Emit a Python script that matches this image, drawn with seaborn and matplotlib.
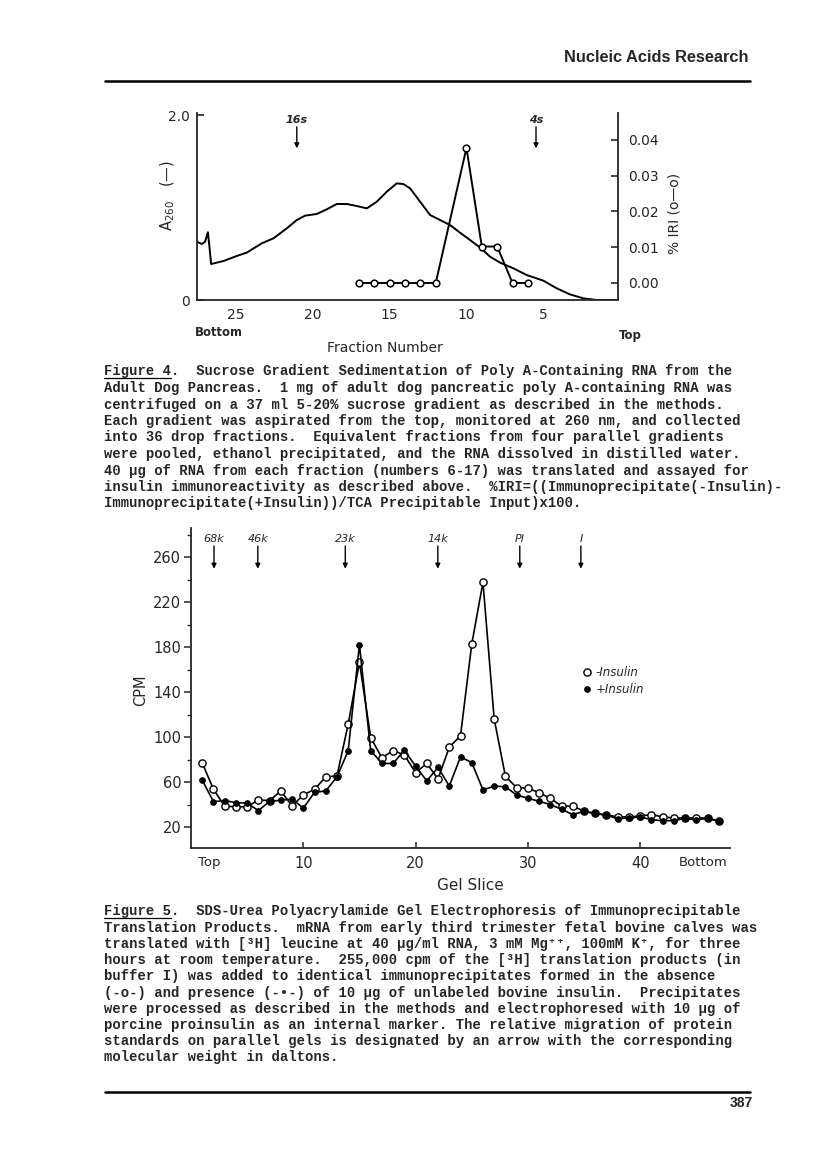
import matplotlib
matplotlib.use("Agg")
import matplotlib.pyplot as plt
from matplotlib.lines import Line2D
from matplotlib.ticker import MultipleLocator
import seaborn as sns
import pandas as pd

# ---------------- Figure 4 data ----------------
a260_fraction = [27.56, 27.24, 27.02, 26.84, 26.74, 26.63, 25.82, 24.96, 24.31, 23.33,
                 22.57, 21.70, 21.05, 20.51, 19.75, 19.10, 18.45, 17.80, 17.14, 16.49,
                 15.84, 15.19, 14.54, 14.11, 13.67, 13.02, 12.37, 11.72, 11.07, 10.42,
                 9.77, 9.11, 8.46, 7.81, 6.94, 6.08, 4.99, 4.12, 3.26, 2.39, 1.52, 0.22]
a260_value = [0.631, 0.605, 0.631, 0.732, 0.577, 0.389, 0.422, 0.476, 0.512, 0.613,
              0.667, 0.775, 0.865, 0.912, 0.930, 0.980, 1.038, 1.038, 1.016, 0.991,
              1.063, 1.171, 1.261, 1.254, 1.207, 1.063, 0.919, 0.865, 0.811, 0.728,
              0.649, 0.566, 0.468, 0.404, 0.342, 0.270, 0.209, 0.126, 0.061, 0.018, 0.0, 0.0]
iri_fraction = [17, 16, 15, 14, 13, 12, 10, 9, 8, 7, 6]
iri_value = [0.0, 0.0, 0.0, 0.0, 0.0, 0.0, 0.0378, 0.0102, 0.0102, 0.0, 0.0]
fig4_marker_names = ["16s", "4s"]
fig4_marker_pos = [21.05, 5.47]
fig4_xticks = [25, 20, 15, 10, 5]
fig4_left_ticks = [0, 2.0]
fig4_left_ticklabels = ["0", "2.0"]
fig4_right_ticks = [0.0, 0.01, 0.02, 0.03, 0.04]
fig4_right_ticklabels = ["0.00", "0.01", "0.02", "0.03", "0.04"]

# ---------------- Figure 5 data ----------------
gel_slice = list(range(1, 48))
cpm_minus_insulin = [77, 53.5, 38.5, 38, 38, 44, 43.5, 52, 38.7, 48.5,
                     53.5, 64.5, 65.5, 111.5, 166.5, 99.5, 81.5, 88, 84, 68.3,
                     76.5, 62.7, 91, 101, 182.5, 237.5, 116, 65, 55, 54.5,
                     50.5, 45.5, 38.5, 38.5, 34, 32, 30.7, 29, 29, 29.8,
                     31, 29, 28, 28, 28, 28, 25.3]
cpm_plus_insulin = [61.6, 42.5, 43.5, 41.6, 41.2, 34.6, 42.8, 43.8, 44.9, 36.7,
                    50.8, 52, 64.6, 87.8, 182, 88, 76.5, 76.5, 88.2, 74,
                    61, 73, 56.4, 82.3, 77.3, 53, 56.3, 55.8, 48.4, 45.6,
                    42.8, 40, 35.7, 31, 34, 32, 30.4, 27.4, 28, 29,
                    26.5, 25.6, 25.6, 27.7, 26.2, 27.7, 25]
series_labels = ["-Insulin", "+Insulin"]
fig5_marker_names = ["68k", "46k", "23k", "14k", "PI", "I"]
fig5_marker_pos = [2.05, 5.95, 13.74, 21.98, 29.28, 34.72]
fig5_yticks = [20, 60, 100, 140, 180, 220, 260]
fig5_xtick_pos = [1.6, 10, 20, 30, 40, 45.6]
fig5_xtick_labels = ["Top", "10", "20", "30", "40", "Bottom"]

caption4 = [
    "Figure 4.  Sucrose Gradient Sedimentation of Poly A-Containing RNA from the",
    "Adult Dog Pancreas.  1 mg of adult dog pancreatic poly A-containing RNA was",
    "centrifuged on a 37 ml 5-20% sucrose gradient as described in the methods.",
    "Each gradient was aspirated from the top, monitored at 260 nm, and collected",
    "into 36 drop fractions.  Equivalent fractions from four parallel gradients",
    "were pooled, ethanol precipitated, and the RNA dissolved in distilled water.",
    "40 \u00b5g of RNA from each fraction (numbers 6-17) was translated and assayed for",
    "insulin immunoreactivity as described above.  %IRI=((Immunoprecipitate(-Insulin)-",
    "Immunoprecipitate(+Insulin))/TCA Precipitable Input)x100.",
]
caption5 = [
    "Figure 5.  SDS-Urea Polyacrylamide Gel Electrophoresis of Immunoprecipitable",
    "Translation Products.  mRNA from early third trimester fetal bovine calves was",
    "translated with [\u00b3H] leucine at 40 \u00b5g/ml RNA, 3 mM Mg\u207a\u207a, 100mM K\u207a, for three",
    "hours at room temperature.  255,000 cpm of the [\u00b3H] translation products (in",
    "buffer I) was added to identical immunoprecipitates formed in the absence",
    "(-o-) and presence (-\u2022-) of 10 \u00b5g of unlabeled bovine insulin.  Precipitates",
    "were processed as described in the methods and electrophoresed with 10 \u00b5g of",
    "porcine proinsulin as an internal marker. The relative migration of protein",
    "standards on parallel gels is designated by an arrow with the corresponding",
    "molecular weight in daltons.",
]

sns.set_style("ticks")
plt.rcParams["font.family"] = ["DejaVu Sans"]
plt.rcParams["axes.linewidth"] = 1.3

W, H = 816, 1161
fig = plt.figure(figsize=(W / 100, H / 100), dpi=100)
fig.patch.set_facecolor("white")


def fx(x):
    return x / W


def fy(y):
    return 1 - y / H


mono = ["Liberation Mono", "DejaVu Sans Mono"]

# ---------------- header ----------------
fig.text(fx(749), fy(58), "Nucleic Acids Research", ha="right", va="center",
         fontsize=11.8, weight="bold", family="Liberation Sans")
fig.add_artist(Line2D([fx(105), fx(750)], [fy(81), fy(81)], lw=1.8, color="black"))

# ---------------- Figure 4 ----------------
ax1 = fig.add_axes([fx(197), fy(300), (618 - 197) / W, (300 - 113) / H])
df_a = pd.DataFrame({"fraction": a260_fraction, "a260": a260_value})
sns.lineplot(data=df_a, x="fraction", y="a260", ax=ax1, color="black", lw=1.4,
             estimator=None, errorbar=None)
ax1.set_xlim(27.55, 0.13)
ax1.set_ylim(0, 2.022)
ax1.set_xticks(fig4_xticks)
ax1.set_xticklabels([str(v) for v in fig4_xticks])
ax1.set_yticks(fig4_left_ticks)
ax1.set_yticklabels(fig4_left_ticklabels)
ax1.tick_params(axis="x", length=0, pad=6, labelsize=10)
ax1.tick_params(axis="y", direction="in", length=5, width=1.2, pad=5, labelsize=10)
ax1.set_xlabel("")
ax1.set_ylabel("")
ax1.spines["top"].set_visible(False)
ax1.spines["right"].set_visible(False)

ax1b = ax1.twinx()
df_i = pd.DataFrame({"fraction": iri_fraction, "iri": iri_value})
sns.lineplot(data=df_i, x="fraction", y="iri", ax=ax1b, color="black", lw=1.4,
             marker="o", markersize=4.8, markerfacecolor="white",
             markeredgecolor="black", markeredgewidth=1.1, estimator=None, errorbar=None)
ax1b.set_ylim(-0.00476, 0.04755)
ax1b.set_yticks(fig4_right_ticks)
ax1b.set_yticklabels(fig4_right_ticklabels)
ax1b.tick_params(axis="y", direction="in", length=5, width=1.2, pad=7, labelsize=10)
ax1b.set_ylabel("")
ax1b.set_xlabel("")
for s in ["top", "left", "bottom"]:
    ax1b.spines[s].set_visible(False)
ax1b.spines["right"].set_linewidth(1.3)

for name, pos in zip(fig4_marker_names, fig4_marker_pos):
    ax1.annotate("", xy=(pos, 1.64), xytext=(pos, 1.873),
                 arrowprops=dict(arrowstyle="-|>", color="black", lw=1.0,
                                 mutation_scale=7, shrinkA=0, shrinkB=0))
    ax1.text(pos, 1.946, name, ha="center", va="center", fontsize=8,
             style="italic", weight="bold")

fig.text(fx(168), fy(196), "A$_{260}$   (\u2014)", rotation=90, ha="center",
         va="center", fontsize=10.5)
fig.text(fx(675), fy(213), "% IRI (o\u2014o)", rotation=90, ha="center",
         va="center", fontsize=10)
fig.text(fx(219), fy(332), "Bottom", ha="center", va="center", fontsize=8.4,
         weight="bold")
fig.text(fx(630), fy(335), "Top", ha="center", va="center", fontsize=8.4,
         weight="bold")
fig.text(fx(385), fy(348), "Fraction Number", ha="center", va="center",
         fontsize=10)

# caption 4
for i, line in enumerate(caption4):
    fig.text(fx(104), fy(375.5 + i * 16.5), line, ha="left", va="baseline",
             fontsize=10, family=mono, weight="bold")
fig.add_artist(Line2D([fx(104), fx(104 + 8 * 8.33)], [fy(378), fy(378)],
                      lw=0.9, color="black"))

# ---------------- Figure 5 ----------------
ax2 = fig.add_axes([fx(191), fy(848), 539 / W, 320 / H])
df5 = pd.DataFrame({"slice": gel_slice, "minus": cpm_minus_insulin,
                    "plus": cpm_plus_insulin})
sns.lineplot(data=df5, x="slice", y="minus", ax=ax2, color="black", lw=1.2,
             marker="o", markersize=5.2, markerfacecolor="white",
             markeredgecolor="black", markeredgewidth=1.0, label=series_labels[0],
             estimator=None, errorbar=None)
sns.lineplot(data=df5, x="slice", y="plus", ax=ax2, color="black", lw=1.2,
             marker="o", markersize=4.0, markerfacecolor="black",
             markeredgecolor="black", markeredgewidth=0.8, label=series_labels[1],
             estimator=None, errorbar=None)
ax2.set_xlim(0, 48)
ax2.set_ylim(1.33, 285.8)
ax2.set_yticks(fig5_yticks)
ax2.set_yticklabels([str(v) for v in fig5_yticks])
ax2.yaxis.set_minor_locator(MultipleLocator(20))
ax2.set_xticks(fig5_xtick_pos)
ax2.set_xticklabels(fig5_xtick_labels)
ax2.tick_params(axis="x", direction="in", length=4, width=1.1, pad=6, labelsize=10.5)
ax2.tick_params(axis="y", which="major", direction="out", length=5, width=1.1,
                pad=2, labelsize=10.5)
ax2.tick_params(axis="y", which="minor", direction="out", length=3, width=1.0)
xt = ax2.xaxis.get_major_ticks()
for t in (xt[0], xt[-1]):
    t.tick1line.set_visible(False)
    t.tick2line.set_visible(False)
xl = ax2.get_xticklabels()
xl[0].set_fontsize(9.5)
xl[-1].set_fontsize(9.5)
ax2.set_xlabel("")
ax2.set_ylabel("")
ax2.spines["top"].set_visible(False)
ax2.spines["right"].set_visible(False)

for name, pos in zip(fig5_marker_names, fig5_marker_pos):
    ax2.annotate("", xy=(pos, 249.6), xytext=(pos, 269.8),
                 arrowprops=dict(arrowstyle="-|>", color="black", lw=1.0,
                                 mutation_scale=7, shrinkA=0, shrinkB=0))
    ax2.text(pos, 276.3, name, ha="center", va="center", fontsize=8,
             style="italic")

ax2.legend(loc="upper left", bbox_to_anchor=(0.7347, 0.569), frameon=False,
           handlelength=0, handletextpad=0.7, labelspacing=0.35, borderpad=0,
           borderaxespad=0, prop=dict(style="italic", size=8.5))

fig.text(fx(141), fy(690), "CPM", rotation=90, ha="center", va="center",
         fontsize=10.5)
fig.text(fx(470), fy(885), "Gel Slice", ha="center", va="center", fontsize=11)

# caption 5
for i, line in enumerate(caption5):
    fig.text(fx(104), fy(915.5 + i * 16.2), line, ha="left", va="baseline",
             fontsize=10, family=mono, weight="bold")
fig.add_artist(Line2D([fx(104), fx(104 + 8 * 8.33)], [fy(918), fy(918)],
                      lw=0.9, color="black"))

# footer
fig.add_artist(Line2D([fx(105), fx(750)], [fy(1092), fy(1092)], lw=1.8, color="black"))
fig.text(fx(753), fy(1103), "387", ha="right", va="center", fontsize=10,
         weight="bold", family="Liberation Sans")

fig.savefig("out.png", dpi=100)
